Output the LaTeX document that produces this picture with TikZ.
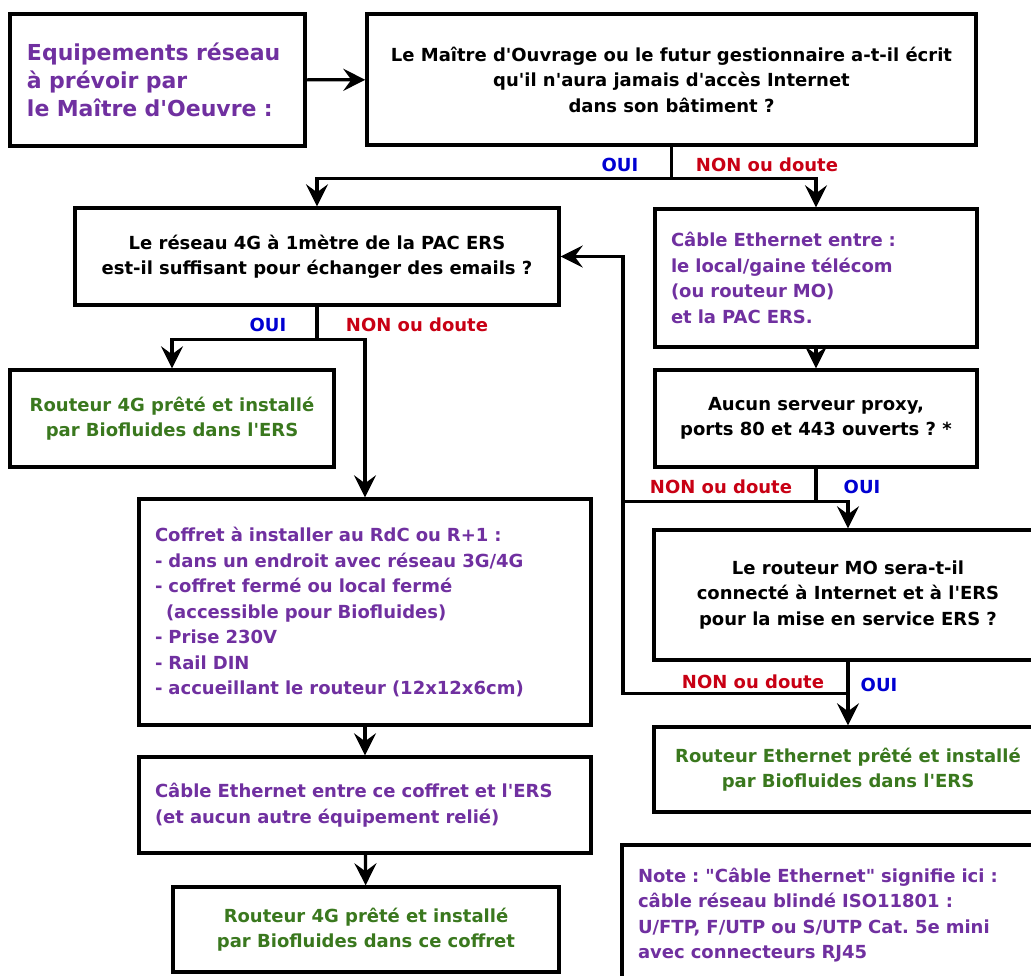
\documentclass[tikz,border=0pt]{standalone}
\usepackage{fontspec}
\setmainfont{DejaVu Sans}
\usepackage{tikz}
\usetikzlibrary{arrows.meta,positioning}
\definecolor{mopurple}{RGB}{112,48,160}
\definecolor{okgreen}{RGB}{58,120,30}
\definecolor{nonred}{RGB}{200,0,20}
\definecolor{ouiblue}{RGB}{0,0,210}
\newcommand{\ap}{\textquotesingle}
\frenchspacing

\begin{document}
\begin{tikzpicture}[x=1pt, y=-1pt]
        \tikzstyle{box} = [rectangle, draw, line width = 3.4pt, fill = white, inner sep = 0pt, font = \bfseries\fontsize{18}{25.5}\selectfont]
        \tikzstyle{question} = [box, align = center]
        \tikzstyle{todo} = [box, align = left, text = mopurple, inner xsep = 16pt]
        \tikzstyle{result} = [box, align = center, text = okgreen]
        \tikzstyle{yes} = [font = \bfseries\fontsize{18}{22}\selectfont, text = ouiblue]
        \tikzstyle{no} = [font = \bfseries\fontsize{18}{22}\selectfont, text = nonred]
        \tikzstyle{link} = [line width = 3.2pt]
        \tikzstyle{arrow} = [link, -{Stealth[length = 22pt, width = 22pt, inset = 8pt]}]
        \fill [white] (0,0) rectangle (1031,976);
        \useasboundingbox (0,0) rectangle (1031,976);
        \clip (0,0) rectangle (1031,976);
        \node (title) [todo, minimum width = 295, minimum height = 132, text width = 261, inner xsep = 17pt, font = \bfseries\fontsize{22}{28}\selectfont] at (157.5,80)
        {Equipements réseau \\ à prévoir par \\ le Maître d\ap Oeuvre :};
        \node (q1) [question, minimum width = 609, minimum height = 131] at (671.5,79.5)
        {Le Maître d\ap Ouvrage ou le futur gestionnaire a-t-il écrit \\ qu\ap il n\ap aura jamais d\ap accès Internet \\ dans son bâtiment ?};
        \node (q4g) [question, minimum width = 484, minimum height = 97] at (317,256.5)
        {Le réseau 4G à 1mètre de la PAC ERS \\ est-il suffisant pour échanger des emails ?};
        \node (r4g) [result, minimum width = 324, minimum height = 97] at (172,418.5)
        {Routeur 4G prêté et installé \\ par Biofluides dans l\ap ERS};
        \node (coffret) [todo, minimum width = 452, minimum height = 226, text width = 420] at (365,612)
        {Coffret à installer au RdC ou R+1 : \\ - dans un endroit avec réseau 3G/4G \\ - coffret fermé ou local fermé \\ \hspace*{11pt}(accessible pour Biofluides) \\ - Prise 230V \\ - Rail DIN \\ - accueillant le routeur (12x12x6cm)};
        \node (cableco) [todo, minimum width = 452, minimum height = 96, text width = 420] at (365,805)
        {Câble Ethernet entre ce coffret et l\ap ERS \\ (et aucun autre équipement relié)};
        \node (r4gco) [result, minimum width = 386, minimum height = 85] at (366,929.5)
        {Routeur 4G prêté et installé \\ par Biofluides dans ce coffret};
        \node (ethcable) [todo, minimum width = 322, minimum height = 138, text width = 290] at (816,278)
        {Câble Ethernet entre : \\ le local/gaine télécom \\ (ou routeur MO) \\ et la PAC ERS.};
        \node (proxy) [question, minimum width = 322, minimum height = 97] at (816,418.5)
        {Aucun serveur proxy, \\ ports 80 et 443 ouverts ? *};
        \node (mo) [question, minimum width = 388, minimum height = 130] at (848,595)
        {Le routeur MO sera-t-il \\ connecté à Internet et à l\ap ERS \\ pour la mise en service ERS ?};
        \node (rethe) [result, minimum width = 388, minimum height = 85] at (848,769.5)
        {Routeur Ethernet prêté et installé \\ par Biofluides dans l\ap ERS};
        \node (note) [todo, minimum width = 428, minimum height = 140, text width = 396] at (836,915)
        {Note : \textquotedbl Câble Ethernet\textquotedbl{} signifie ici : \\ câble réseau blindé ISO11801 : \\ U/FTP, F/UTP ou S/UTP Cat. 5e mini \\ avec connecteurs RJ45};
        \coordinate (back) at (623,0);
        % first question
        \draw [arrow] (title) -- (q1);
        \draw [link] (q1.south) -- ++(0,32) coordinate (s1);
        \draw [arrow] (s1) -| (q4g.north);
        \draw [arrow] (s1) -| (ethcable.north);
        \node (oui1) [yes] at (620,165) {OUI};
        \node (non1) [no] at (767,165) {NON ou doute};
        % 4G branch
        \draw [link] (q4g.south) -- ++(0,33) coordinate (s2);
        \draw [arrow] (s2) -| (r4g.north);
        \draw [arrow] (s2) -| (coffret.north);
        \node (oui2) [yes] at (268,325) {OUI};
        \node (non2) [no] at (417,325) {NON ou doute};
        \draw [arrow] (coffret) -- (cableco);
        \draw [arrow] (cableco) -- (r4gco);
        % ethernet branch
        \draw [arrow] (ethcable) -- (proxy);
        \draw [link] (proxy.south) -- ++(0,33) coordinate (s3);
        \draw [arrow] (s3) -| (mo.north);
        \draw [link] (s3) -- (s3 -| back);
        \node (non3) [no] at (721,487) {NON ou doute};
        \node (oui3) [yes] at (862,487) {OUI};
        \draw [link] (mo.south) -- ++(0,32) coordinate (s4);
        \draw [arrow] (s4) -- (rethe.north);
        \draw [arrow] (s4) -- (s4 -| back) |- (q4g.east);
        \node (non4) [no] at (753,682) {NON ou doute};
        \node (oui4) [yes] at (879,685) {OUI};
    \end{tikzpicture}
\end{document}
